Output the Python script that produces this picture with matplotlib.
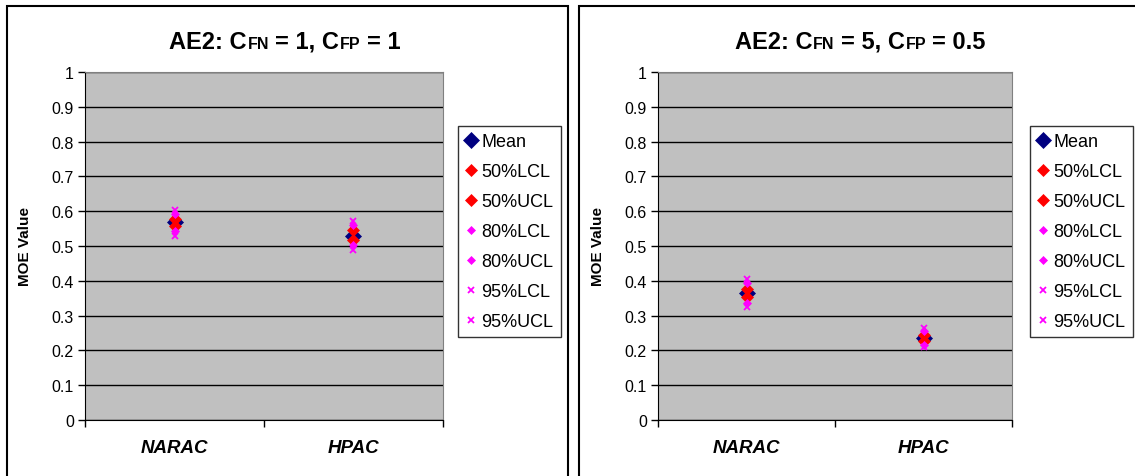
import matplotlib
matplotlib.use("Agg")
from matplotlib import pyplot as plt
from matplotlib.patches import Rectangle
import numpy as np

plt.rcParams['font.family'] = ['Liberation Sans', 'DejaVu Sans']

# data
categories = ["NARAC", "HPAC"]
series_names = ["Mean", "50%LCL", "50%UCL", "80%LCL", "80%UCL", "95%LCL", "95%UCL"]

# panel 1 : CFN = 1, CFP = 1
p1_vals = {
    "Mean":   [0.568, 0.530],
    "50%LCL": [0.557, 0.518],
    "50%UCL": [0.579, 0.545],
    "80%LCL": [0.543, 0.503],
    "80%UCL": [0.592, 0.560],
    "95%LCL": [0.530, 0.488],
    "95%UCL": [0.604, 0.573],
}
# panel 2 : CFN = 5, CFP = 0.5
p2_vals = {
    "Mean":   [0.365, 0.235],
    "50%LCL": [0.353, 0.226],
    "50%UCL": [0.377, 0.243],
    "80%LCL": [0.336, 0.215],
    "80%UCL": [0.394, 0.256],
    "95%LCL": [0.326, 0.211],
    "95%UCL": [0.405, 0.263],
}
titles = [
    [("AE2: C", 17, 0), ("FN", 11.5, 1), ("= 1, C", 17, 6), ("FP", 11.5, 1), ("= 1", 17, 6)],
    [("AE2: C", 17, 0), ("FN", 11.5, 1), ("= 5, C", 17, 6), ("FP", 11.5, 1), ("= 0.5", 17, 6)],
]

# marker style per series (marker, color, size)
styles = {
    "Mean":   ("D", "#000080", 8.5),
    "50%LCL": ("D", "#FF0000", 6.5),
    "50%UCL": ("D", "#FF0000", 6.5),
    "80%LCL": ("D", "#FF00FF", 4.5),
    "80%UCL": ("D", "#FF00FF", 4.5),
    "95%LCL": ("x", "#FF00FF", 5),
    "95%UCL": ("x", "#FF00FF", 5),
}

W, H = 1135, 477
fig = plt.figure(figsize=(W / 100, H / 100), dpi=100)
fig.patch.set_facecolor("white")


def setup_axes(rect, vals):
    ax = fig.add_axes(rect)
    ax.set_facecolor("#C0C0C0")
    x = np.arange(len(categories)) + 0.5
    for name in series_names:
        m, c, s = styles[name]
        ax.plot(x, vals[name], ls="none", marker=m, color=c, markersize=s,
                markeredgewidth=1.3 if m == "x" else 0.5, label=name)
    ax.set_xlim(0, len(categories))
    ax.set_ylim(0, 1)
    ax.set_yticks(np.arange(0, 1.01, 0.1))
    ax.set_yticklabels(["0", "0.1", "0.2", "0.3", "0.4", "0.5", "0.6", "0.7", "0.8", "0.9", "1"])
    ax.yaxis.grid(True, color="black", lw=1)
    ax.set_axisbelow(True)
    ax.set_xticks(x)
    ax.set_xticklabels(categories, fontsize=13.5, fontweight="bold", fontstyle="italic")
    ax.set_xticks(np.arange(len(categories) + 1), minor=True)
    ax.tick_params(axis="x", which="major", length=0, pad=14)
    ax.tick_params(axis="x", which="minor", length=5, direction="out", width=1)
    ax.tick_params(axis="y", length=5, direction="out", width=1, labelsize=11.5, pad=3)
    ax.spines["left"].set_color("black")
    ax.spines["bottom"].set_color("black")
    ax.spines["top"].set_color("#808080")
    ax.spines["right"].set_color("#808080")
    ax.set_ylabel("MOE Value", fontsize=11, fontweight="bold", labelpad=14)
    return ax


def chained_title(xc, y, pieces):
    r = fig.canvas.get_renderer()
    texts, widths, gaps = [], [], []
    for s, size, gap in pieces:
        t = fig.text(0, y / H, s, fontsize=size, fontweight="bold", va="baseline")
        texts.append(t)
        widths.append(t.get_window_extent(r).width)
        gaps.append(gap)
    total = sum(widths) + sum(gaps)
    xp = xc - total / 2
    for t, w, g in zip(texts, widths, gaps):
        xp += g
        t.set_x(xp / W)
        xp += w


ax1 = setup_axes([85 / W, 56 / H, 358 / W, 348 / H], p1_vals)
ax2 = setup_axes([658 / W, 56 / H, 354 / W, 348 / H], p2_vals)

chained_title(285, H - 49, titles[0])
chained_title(860, H - 49, titles[1])

for ax, lx in [(ax1, 458), (ax2, 1030)]:
    handles, labels = ax.get_legend_handles_labels()
    leg = fig.legend(handles, labels, loc="upper left",
                     bbox_to_anchor=(lx / W, 1 - 127 / H), fontsize=13,
                     frameon=True, fancybox=False, borderaxespad=0,
                     handlelength=0.6, handletextpad=0.3, labelspacing=0.72,
                     borderpad=0.4, edgecolor="black")
    leg.get_frame().set_linewidth(1)

# panel frames
fig.add_artist(Rectangle((7 / W, -0.05), 561 / W, (H - 7) / H + 0.05,
                         transform=fig.transFigure, fill=False, lw=1.5, ec="black"))
fig.add_artist(Rectangle((579 / W, -0.05), 0.6, (H - 7) / H + 0.05,
                         transform=fig.transFigure, fill=False, lw=1.5, ec="black"))

fig.savefig("out.png", dpi=100)
